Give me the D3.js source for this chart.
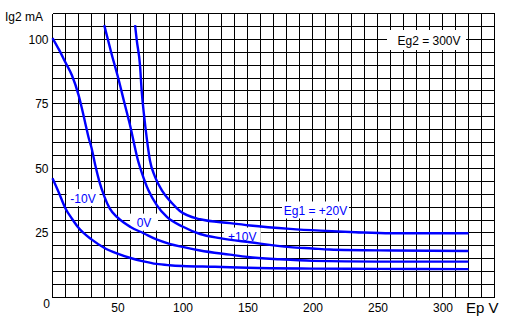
<!DOCTYPE html>
<html>
<head>
<meta charset="utf-8">
<script src="https://cdn.jsdelivr.net/npm/d3@7"></script>
<style>
  html, body { margin: 0; padding: 0; background: #fff; }
  svg { display: block; font-family: "Liberation Sans", Arial, sans-serif; }
</style>
</head>
<body>
<svg id="chart" width="508" height="324"></svg>
<script>
// Screen-grid current Ig2 (mA) versus plate voltage Ep (V), Eg2 = 300 V
const epTicks = [50, 100, 150, 200, 250, 300];
const ig2Ticks = [25, 50, 75, 100];

// Eg1 = -10 V
const epM10 = [0, 5, 10, 15, 20, 30, 40, 50, 60, 70, 80, 90, 100, 125, 150, 200, 250, 320];
const ig2M10 = [46.2, 40.5, 34.5, 30.5, 27, 22.5, 19.2, 17, 15.3, 14, 13, 12.5, 12.2, 11.9, 11.5, 11.2, 11.1, 11.0];

// Eg1 = 0 V
const ep0 = [0, 5, 10, 15, 20, 22.5, 25, 28, 30, 33, 36, 40, 44, 50, 60, 70, 80, 90, 100, 113.5, 136.5, 150, 175, 200, 250, 320];
const ig20 = [100.5, 96, 91, 86, 78.5, 73.5, 68, 61.5, 58, 51, 45, 39, 34.5, 31, 27.3, 24.9, 22.5, 20.8, 19.6, 18.2, 16.6, 15.7, 14.8, 14.2, 13.9, 13.9];

// Eg1 = +10 V
const epP10 = [39.8, 45, 50.6, 55, 59.6, 66, 68.6, 73.7, 80.2, 88, 100, 113.5, 128.8, 152, 182.7, 200, 213, 262, 320];
const ig2P10 = [105.5, 95.2, 84.9, 76, 66.8, 52.6, 48.5, 41.6, 35.8, 31.2, 27.5, 24.6, 23, 21.4, 19.5, 19.0, 18.6, 18.2, 18.0];

// Eg1 = +20 V
const epP20 = [63.5, 64.8, 67.3, 68.6, 70.4, 72.5, 75, 78.8, 84, 92, 98, 113.5, 136.5, 152, 182.7, 206, 233, 260, 320];
const ig2P20 = [105.5, 99.7, 90, 80, 70.7, 61.7, 53, 46.8, 41.6, 36.5, 33.5, 30.3, 28.8, 27.9, 26.6, 25.9, 25.3, 24.9, 24.9];

// curve captions: text and centre in (Ep, Ig2) units
const labelText = ["-10V", "0V", "+10V", "Eg1 = +20V"];
const labelEp = [23.5, 70.4, 146, 202.3];
const labelIg2 = [38.5, 29, 23.6, 33.7];

const svg = d3.select("#chart");

const x = d3.scaleLinear().domain([0, 340]).range([52.5, 494.5]);
const y = d3.scaleLinear().domain([0, 110]).range([297.5, 13.5]);

// grid: 10 V by 5 mA
const grid = svg.append("g").attr("stroke", "#000").attr("stroke-width", 1).attr("shape-rendering", "crispEdges");
grid.selectAll("line.v").data(d3.range(0, 341, 10)).join("line")
  .attr("x1", d => x(d)).attr("x2", d => x(d))
  .attr("y1", y(0)).attr("y2", y(110));
grid.selectAll("line.h").data(d3.range(0, 111, 5)).join("line")
  .attr("x1", x(0)).attr("x2", x(340))
  .attr("y1", d => y(d)).attr("y2", d => y(d));

// axis labels
const xAxis = d3.axisBottom(x).tickValues(epTicks).tickSize(0).tickPadding(0);
const gx = svg.append("g").attr("transform", `translate(0,${y(0) + 6})`).call(xAxis);
gx.select(".domain").remove();
gx.selectAll("text").attr("font-size", 12).attr("font-family", "Liberation Sans, Arial, sans-serif").attr("fill", "#000");

const yAxis = d3.axisLeft(y).tickValues(ig2Ticks).tickSize(0).tickPadding(0);
const gy = svg.append("g").attr("transform", `translate(${x(0) - 4},0)`).call(yAxis);
gy.select(".domain").remove();
gy.selectAll("text").attr("font-size", 12).attr("font-family", "Liberation Sans, Arial, sans-serif").attr("fill", "#000");

svg.append("text").attr("x", x(0) - 6).attr("y", y(0) + 10).attr("text-anchor", "middle")
  .attr("font-size", 12).text("0");

svg.append("text").attr("x", 5).attr("y", 21).attr("font-size", 12).text("Ig2 mA");
svg.append("text").attr("x", 466).attr("y", 313).attr("font-size", 15).text("Ep V");

// white patches behind captions
const labelW = [33, 28, 37, 67];
const patches = svg.append("g");
labelText.forEach((t, i) => {
  patches.append("rect")
    .attr("x", x(labelEp[i]) - labelW[i] / 2).attr("y", y(labelIg2[i]) - 9)
    .attr("width", labelW[i]).attr("height", 17).attr("fill", "#fff");
});
svg.append("rect").attr("x", 387).attr("y", 30).attr("width", 79).attr("height", 20).attr("fill", "#fff");

// curves
const line = d3.line().x(d => x(d[0])).y(d => y(d[1])).curve(d3.curveMonotoneX);
const curves = [
  d3.zip(epM10, ig2M10),
  d3.zip(ep0, ig20),
  d3.zip(epP10, ig2P10),
  d3.zip(epP20, ig2P20)
];
svg.append("g").selectAll("path").data(curves).join("path")
  .attr("d", line).attr("fill", "none").attr("stroke", "#0000ff").attr("stroke-width", 2.4)
  .attr("stroke-linejoin", "round");

// captions
labelText.forEach((t, i) => {
  svg.append("text").attr("x", x(labelEp[i])).attr("y", y(labelIg2[i]) + 4.5)
    .attr("text-anchor", "middle").attr("font-size", 12).attr("fill", "#0000ff").text(t);
});

svg.append("text").attr("x", 429).attr("y", 44.5).attr("text-anchor", "middle")
  .attr("font-size", 12).attr("fill", "#000").text("Eg2 = 300V");
</script>
</body>
</html>
